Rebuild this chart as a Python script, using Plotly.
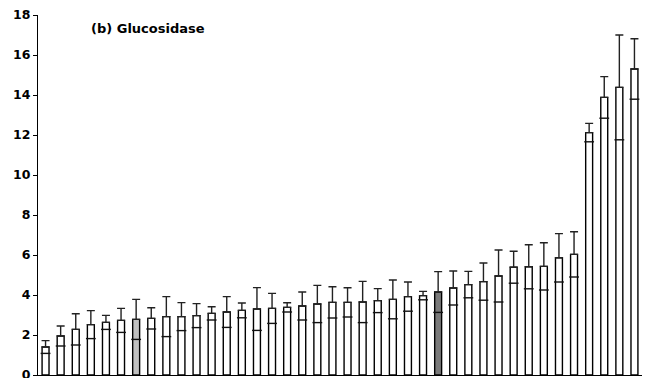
import plotly.graph_objects as go

categories = [f"S{i+1}" for i in range(40)]
means = [1.40, 1.95, 2.28, 2.52, 2.63, 2.73, 2.78, 2.83, 2.92, 2.92,
         2.97, 3.08, 3.15, 3.23, 3.30, 3.33, 3.38, 3.45, 3.55, 3.63,
         3.63, 3.65, 3.72, 3.78, 3.92, 3.97, 4.15, 4.35, 4.52, 4.67,
         4.95, 5.39, 5.41, 5.43, 5.86, 6.03, 12.12, 13.88, 14.38, 15.30]
errors = [0.32, 0.50, 0.78, 0.70, 0.35, 0.60, 1.00, 0.53, 1.00, 0.70,
          0.60, 0.33, 0.77, 0.37, 1.07, 0.75, 0.23, 0.70, 0.93, 0.78,
          0.73, 1.03, 0.60, 0.97, 0.73, 0.21, 1.02, 0.85, 0.66, 0.93,
          1.30, 0.80, 1.10, 1.18, 1.21, 1.13, 0.46, 1.04, 2.62, 1.51]
highlight_light = 6   # light grey bar
highlight_dark = 26   # dark grey bar
yticks = [0, 2, 4, 6, 8, 10, 12, 14, 16, 18]
title_text = "(b) Glucosidase"

colors = ["#ffffff"] * len(means)
colors[highlight_light] = "#c0c0c0"
colors[highlight_dark] = "#7a7a7a"

lower = [m - e for m, e in zip(means, errors)]

fig = go.Figure()
fig.add_trace(go.Bar(
    x=categories, y=means, width=0.46,
    marker=dict(color=colors, line=dict(color="#000000", width=1.4)),
    error_y=dict(type="data", array=errors, arrayminus=[0] * len(errors),
                 symmetric=False, color="#222222", thickness=1.4, width=4),
    hoverinfo="skip", showlegend=False,
))
fig.add_trace(go.Scatter(
    x=categories, y=lower, mode="markers",
    marker=dict(symbol="line-ew", size=7, line=dict(color="#111111", width=1.4)),
    hoverinfo="skip", showlegend=False,
))

L, R, T, B = 38, 11, 15, 3
W, H = 653, 378
fig.update_layout(
    width=W, height=H,
    margin=dict(l=L, r=R, t=T, b=B),
    paper_bgcolor="white", plot_bgcolor="white",
    font=dict(family="DejaVu Sans", size=12, color="#000000"),
    xaxis=dict(showticklabels=False, ticks="", showgrid=False, zeroline=False,
               showline=True, linecolor="#000000", linewidth=1.2,
               range=[-0.5, len(categories) - 0.5]),
    yaxis=dict(range=[0, 18], tickvals=yticks, ticktext=[str(v) for v in yticks],
               ticks="outside", ticklen=4, tickcolor="#000000", tickwidth=1,
               showgrid=False, zeroline=False, showline=True, automargin=False,
               ticklabeloverflow="allow",
               linecolor="#000000", linewidth=1.2,
               tickfont=dict(family="DejaVu Sans", size=12.5, color="#000000", weight="bold")),
    annotations=[dict(text="<b>" + title_text + "</b>",
                      x=(89 - L) / (W - L - R), y=1 - (29 - T) / (H - T - B),
                      xref="paper", yref="paper", showarrow=False,
                      font=dict(family="DejaVu Sans", size=13, color="#000000"),
                      xanchor="left", yanchor="middle")],
)

fig.write_html("out.html", config={"displayModeBar": False},
               post_script="document.body.style.margin='0';document.body.style.overflow='hidden';")
